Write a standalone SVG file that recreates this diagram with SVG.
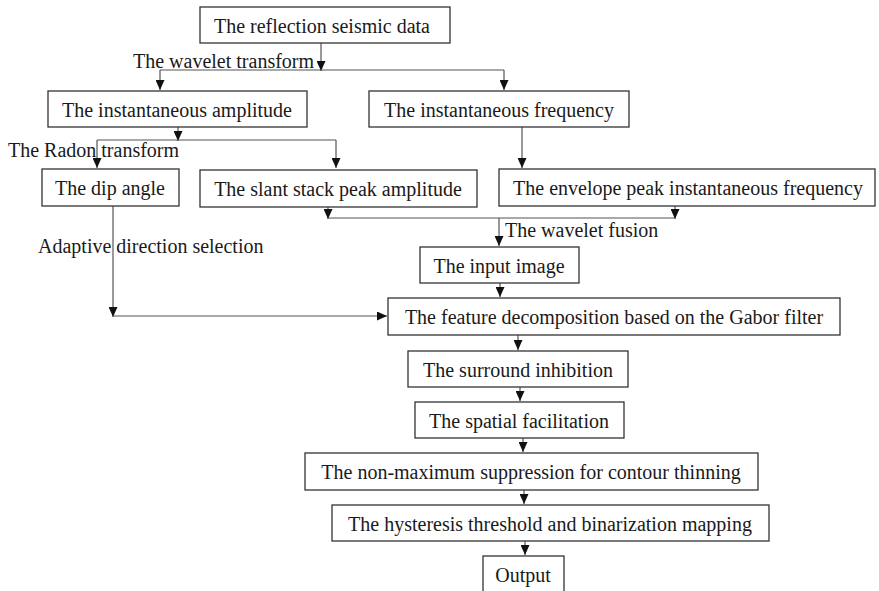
<svg xmlns="http://www.w3.org/2000/svg" width="879" height="591" viewBox="0 0 879 591">
<defs>
<marker id="ah" markerUnits="userSpaceOnUse" markerWidth="10" markerHeight="9" refX="10" refY="4.5" orient="auto">
<path d="M0,0 L10,4.5 L0,9 z" fill="#111"/>
</marker>
<style>
.box{fill:#fff;stroke:#333;stroke-width:1.3}
.t{font-family:"Liberation Serif","Times New Roman",serif;font-size:20px;fill:#1a1a1a}
.c{text-anchor:middle}
.ln{fill:none;stroke:#555;stroke-width:1.2}
.ar{fill:none;stroke:#555;stroke-width:1.2;marker-end:url(#ah)}
</style>
</defs>
<rect width="879" height="591" fill="#fff"/>
<g id="connectors">
<path class="ar" d="M321,43 V71"/>
<path class="ln" d="M160,70 H504"/>
<path class="ar" d="M160,70 V90"/>
<path class="ar" d="M504,70 V90"/>
<path class="ar" d="M178,127 V141"/>
<path class="ln" d="M97,140 H336"/>
<path class="ar" d="M97,140 V168"/>
<path class="ar" d="M336,140 V168"/>
<path class="ar" d="M522,127 V168"/>
<path class="ar" d="M328,207 V219"/>
<path class="ar" d="M675,206 V219"/>
<path class="ln" d="M328,218 H675"/>
<path class="ar" d="M499,218 V246"/>
<path class="ar" d="M500,283 V297"/>
<path class="ar" d="M113,206 V317"/>
<path class="ar" d="M113,316 H387"/>
<path class="ar" d="M518,335 V350"/>
<path class="ar" d="M520,387 V401"/>
<path class="ar" d="M523,438 V452"/>
<path class="ar" d="M524,490 V504"/>
<path class="ar" d="M525,541 V555"/>
</g>
<g id="labels">
<text class="t" x="133" y="68">The wavelet transform</text>
<text class="t" x="8" y="157">The Radon transform</text>
<text class="t" x="38" y="253">Adaptive direction selection</text>
<text class="t" x="505" y="237">The wavelet fusion</text>
</g>
<g id="n1"><rect class="box" x="200" y="7" width="250" height="36"/><text class="t c" x="322" y="33">The reflection seismic data</text></g>
<g id="n2"><rect class="box" x="48" y="91" width="259" height="36"/><text class="t c" x="177" y="117">The instantaneous amplitude</text></g>
<g id="n3"><rect class="box" x="369" y="91" width="260" height="36"/><text class="t c" x="499" y="117">The instantaneous frequency</text></g>
<g id="n4"><rect class="box" x="42" y="169" width="137" height="37"/><text class="t c" x="110" y="195">The dip angle</text></g>
<g id="n5"><rect class="box" x="200" y="170" width="277" height="37"/><text class="t c" x="338" y="196">The slant stack peak amplitude</text></g>
<g id="n6"><rect class="box" x="499" y="169" width="376" height="37"/><text class="t c" x="688" y="195">The envelope peak instantaneous frequency</text></g>
<g id="n7"><rect class="box" x="420" y="247" width="159" height="36"/><text class="t c" x="499" y="273">The input image</text></g>
<g id="n8"><rect class="box" x="388" y="298" width="452" height="37"/><text class="t c" x="614" y="324">The feature decomposition based on the Gabor filter</text></g>
<g id="n9"><rect class="box" x="408" y="351" width="220" height="36"/><text class="t c" x="518" y="377">The surround inhibition</text></g>
<g id="n10"><rect class="box" x="415" y="402" width="209" height="36"/><text class="t c" x="519" y="428">The spatial facilitation</text></g>
<g id="n11"><rect class="box" x="305" y="453" width="453" height="37"/><text class="t c" x="531" y="479">The non-maximum suppression for contour thinning</text></g>
<g id="n12"><rect class="box" x="332" y="505" width="437" height="36"/><text class="t c" x="550" y="531">The hysteresis threshold and binarization mapping</text></g>
<g id="n13"><rect class="box" x="483" y="556" width="81" height="36"/><text class="t c" x="523" y="582">Output</text></g>
</svg>
